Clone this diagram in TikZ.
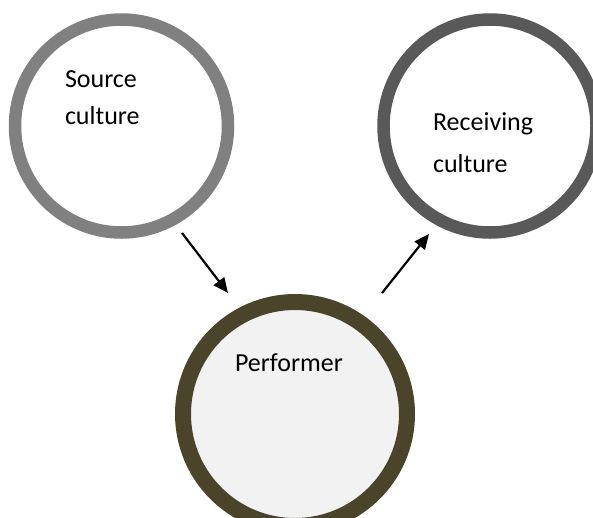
\documentclass[tikz,border=0pt]{standalone}
\usepackage{fontspec}
\setmainfont{Carlito}
\usetikzlibrary{arrows.meta}
\definecolor{srcgray}{HTML}{808080}
\definecolor{rcvgray}{HTML}{595959}
\definecolor{perfolive}{HTML}{4A452A}
\definecolor{perffill}{HTML}{F2F2F2}
\begin{document}
\begin{tikzpicture}[x=1pt,y=-1pt,
  ring/.style={circle,draw,inner sep=0pt,outer sep=0pt},
  label/.style={inner sep=0pt,outer sep=0pt,anchor=base west,align=left},
  flow/.style={line width=2.2pt,-{Triangle[length=15pt,width=13pt]}}]
  \useasboundingbox (0,0) rectangle (593,517);
  \begin{scope}
    \clip (0,0) rectangle (593,517);
    % the three cultures
    \node[ring,draw=srcgray,line width=12.5pt,fill=white,minimum size=213pt] (src) at (121.5,126) {};
    \node[ring,draw=rcvgray,line width=12.5pt,fill=white,minimum size=213pt] (rcv) at (490,126) {};
    \node[ring,draw=perfolive,line width=16pt,fill=perffill,minimum size=224pt] (perf) at (295,414) {};
  \end{scope}
  % labels (anchored on the baseline of their last line)
  \node[label,font=\fontsize{26}{37}\selectfont] (srctxt) at (65,124) {Source\\culture};
  \node[label,font=\fontsize{26}{42}\selectfont] (rcvtxt) at (433,172) {Receiving\\culture};
  \node[label,font=\fontsize{26}{31}\selectfont] (perftxt) at (235,371) {Performer};
  % transfer arrows
  \coordinate (a1s) at (182,233);
  \coordinate (a1e) at (228,293);
  \coordinate (a2s) at (382,293);
  \coordinate (a2e) at (429,234);
  \draw[flow] (a1s) -- (a1e);
  \draw[flow] (a2s) -- (a2e);
\end{tikzpicture}
\end{document}
